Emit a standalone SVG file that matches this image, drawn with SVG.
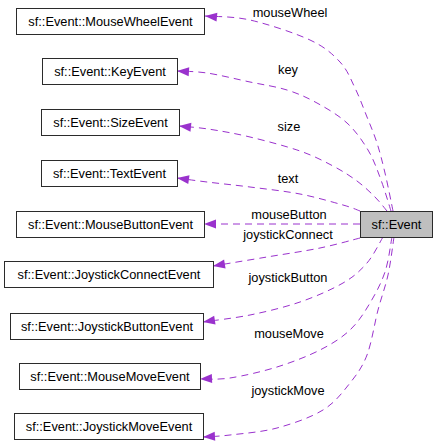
<svg xmlns="http://www.w3.org/2000/svg" width="437" height="445" viewBox="0 0 437 445">
<style>
text{font-family:"Liberation Sans",Arial,sans-serif;font-size:12.8px;fill:#000}
.node rect{fill:#fff;stroke:#2b2b2b;stroke-width:1}
.node text{text-anchor:middle}
#ev rect{fill:#bfbfbf}
.edge path{fill:none;stroke:#9a32cd;stroke-width:1;stroke-dasharray:7,5;marker-end:url(#arr)}
.edge text{text-anchor:middle}
</style>
<defs>
<marker id="arr" markerUnits="userSpaceOnUse" markerWidth="14" markerHeight="10" refX="12" refY="4.5" orient="auto" viewBox="0 0 14 10" overflow="visible">
<path d="M0,0 L12,4.5 L0,9 z" fill="#9a32cd"/>
</marker>
</defs>
<rect width="437" height="445" fill="#fff"/>
<g id="edges" class="edge">
<path d="M393,211 C391.7,204.7 387.7,184.3 385,173 C382.3,161.7 380,152.3 377,143 C374,133.7 370.7,126.2 367,117 C363.3,107.8 359.5,97.2 355,88 C350.5,78.8 347.5,70 340,62 C332.5,54 325,47 310,40 C295,33 267.5,24 250,20 C232.5,16 212.5,16.7 205,16"/>
<text x="290" y="17">mouseWheel</text>
<path d="M391,211 C389.3,205.8 384.8,190.2 381,180 C377.2,169.8 373.7,159.5 368,150 C362.3,140.5 355.5,130.8 347,123 C338.5,115.2 327,108.5 317,103 C307,97.5 298.2,93.5 287,90 C275.8,86.5 263.3,84.8 250,82 C236.7,79.2 219.2,74.8 207,73 C194.8,71.2 182,71.3 177,71"/>
<text x="288" y="74">key</text>
<path d="M387,211 C385,208.7 380,202 375,197 C370,192 364,186.2 357,181 C350,175.8 342.5,171 333,166 C323.5,161 313.8,155.8 300,151 C286.2,146.2 265.3,140.7 250,137 C234.7,133.3 219.8,130.8 208,129 C196.2,127.2 183.8,126.5 179,126"/>
<text x="289" y="131">size</text>
<path d="M360,211 C357.2,210 353,207.8 343,205 C333,202.2 315.5,197 300,194 C284.5,191 265.5,189 250,187 C234.5,185 219.2,183.5 207,182 C194.8,180.5 182,178.7 177,178"/>
<text x="288" y="183">text</text>
<path d="M360,224 L204,224"/>
<text x="289" y="219">mouseButton</text>
<path d="M360,238 C353.3,239.7 335.5,244.8 320,248 C304.5,251.2 284.8,254 267,257 C249.2,260 222,264.5 213,266"/>
<text x="288" y="239">joystickConnect</text>
<path d="M383,237 C380.3,241.3 373.7,255.3 367,263 C360.3,270.7 354.2,276.5 343,283 C331.8,289.5 315.5,296.7 300,302 C284.5,307.3 266.2,311.7 250,315 C233.8,318.3 210.8,320.8 203,322"/>
<text x="288" y="282">joystickButton</text>
<path d="M392,237 C390.8,242.8 388.7,261 385,272 C381.3,283 375.8,293.3 370,303 C364.2,312.7 358.3,322.2 350,330 C341.7,337.8 332.2,343.8 320,350 C307.8,356.2 292,362.3 277,367 C262,371.7 242.8,376 230,378 C217.2,380 205,378.8 200,379"/>
<text x="289" y="338">mouseMove</text>
<path d="M394,237 C393,243.3 390.7,262.8 388,275 C385.3,287.2 381.5,296.7 378,310 C374.5,323.3 371.7,342.8 367,355 C362.3,367.2 357.3,373.8 350,383 C342.7,392.2 335.2,402.5 323,410 C310.8,417.5 292.5,423.8 277,428 C261.5,432.2 242.3,433.5 230,435 C217.7,436.5 207.5,436.7 203,437"/>
<text x="288" y="395">joystickMove</text>
</g>
<g id="ev" class="node"><rect x="360.5" y="211.5" width="72" height="26"/><text x="396.5" y="229">sf::Event</text></g>
<g id="mousewheel" class="node"><rect x="16.5" y="8.5" width="188" height="26"/><text x="110.5" y="26">sf::Event::MouseWheelEvent</text></g>
<g id="key" class="node"><rect x="42.5" y="58.5" width="135" height="26"/><text x="110" y="76">sf::Event::KeyEvent</text></g>
<g id="size" class="node"><rect x="41.5" y="109.5" width="138" height="26"/><text x="110.5" y="127">sf::Event::SizeEvent</text></g>
<g id="text" class="node"><rect x="41.5" y="160.5" width="136" height="26"/><text x="109.5" y="178">sf::Event::TextEvent</text></g>
<g id="mousebutton" class="node"><rect x="16.5" y="211.5" width="188" height="26"/><text x="110.5" y="229">sf::Event::MouseButtonEvent</text></g>
<g id="joyconnect" class="node"><rect x="4.5" y="261.5" width="209" height="26"/><text x="109" y="279">sf::Event::JoystickConnectEvent</text></g>
<g id="joybutton" class="node"><rect x="10.5" y="313.5" width="193" height="26"/><text x="107" y="331">sf::Event::JoystickButtonEvent</text></g>
<g id="mousemove" class="node"><rect x="19.5" y="363.5" width="181" height="26"/><text x="110" y="381">sf::Event::MouseMoveEvent</text></g>
<g id="joymove" class="node"><rect x="14.5" y="413.5" width="189" height="26"/><text x="109" y="431">sf::Event::JoystickMoveEvent</text></g>
</svg>
